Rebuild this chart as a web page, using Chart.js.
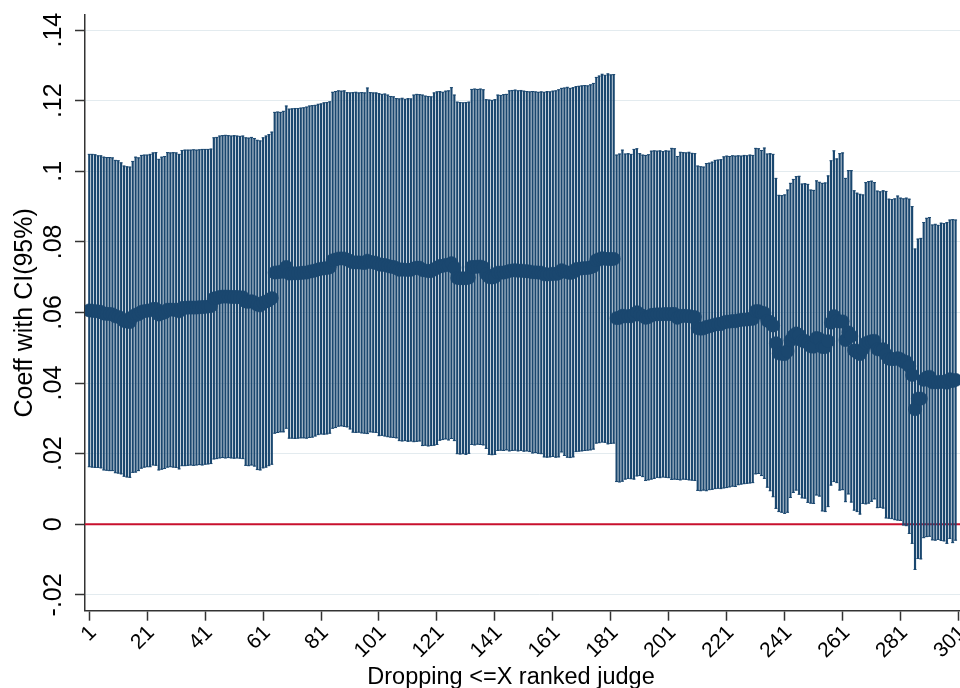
<!DOCTYPE html>
<html>
<head>
<meta charset="utf-8">
<script src="https://cdn.jsdelivr.net/npm/chart.js@4.4.1/dist/chart.umd.min.js"></script>
<style>
  html, body { margin: 0; padding: 0; overflow: hidden; background: #fff; }
</style>
</head>
<body>
<canvas id="myChart" width="1000" height="688"></canvas>
<script>
// upper bound of the 95% CI, one value per dropped rank (1..300)
var hi =
  [.1048,.1048,.1047,.1044,.1044,.1040,.1039,.1039,.1038,.1031,
   .1030,.1024,.1015,.1013,.1012,.1028,.1040,.1038,.1045,.1046,
   .1046,.1048,.1052,.1053,.1034,.1040,.1042,.1053,.1052,.1053,
   .1052,.1048,.1059,.1060,.1060,.1060,.1061,.1060,.1061,.1062,
   .1062,.1062,.1063,.1095,.1096,.1100,.1101,.1102,.1101,.1100,
   .1101,.1100,.1099,.1100,.1095,.1094,.1096,.1093,.1088,.1086,
   .1095,.1100,.1104,.1111,.1167,.1168,.1167,.1170,.1185,.1176,
   .1177,.1178,.1178,.1179,.1180,.1182,.1185,.1186,.1187,.1190,
   .1191,.1194,.1195,.1197,.1224,.1226,.1228,.1227,.1228,.1223,
   .1222,.1223,.1224,.1222,.1223,.1222,.1236,.1223,.1222,.1222,
   .1220,.1218,.1219,.1216,.1212,.1211,.1206,.1205,.1207,.1204,
   .1206,.1205,.1216,.1218,.1217,.1216,.1213,.1212,.1211,.1222,
   .1225,.1226,.1224,.1227,.1228,.1237,.1216,.1196,.1195,.1194,
   .1195,.1196,.1232,.1233,.1232,.1233,.1231,.1203,.1202,.1201,
   .1203,.1216,.1215,.1217,.1218,.1228,.1229,.1230,.1228,.1229,
   .1227,.1226,.1225,.1226,.1225,.1224,.1225,.1224,.1226,.1225,
   .1227,.1228,.1231,.1235,.1236,.1238,.1235,.1237,.1240,.1241,
   .1242,.1243,.1242,.1245,.1249,.1266,.1270,.1275,.1272,.1276,
   .1273,.1274,.1046,.1049,.1060,.1049,.1050,.1048,.1062,.1064,
   .1050,.1046,.1045,.1047,.1057,.1058,.1057,.1058,.1056,.1058,
   .1057,.1065,.1064,.1042,.1054,.1053,.1052,.1054,.1051,.1050,
   .1015,.1013,.1012,.1022,.1023,.1026,.1031,.1032,.1033,.1041,
   .1043,.1042,.1044,.1043,.1044,.1043,.1045,.1044,.1046,.1045,
   .1065,.1064,.1059,.1066,.1049,.1050,.1048,.0980,.0932,.0931,
   .0933,.0947,.0966,.0977,.0985,.0986,.0964,.0965,.0963,.0947,
   .0946,.0973,.0969,.0966,.0967,.0987,.1030,.1058,.1035,.1050,
   .1052,.0980,.1002,.1002,.0945,.0938,.0935,.0933,.0968,.0971,
   .0972,.0968,.0944,.0942,.0945,.0943,.0921,.0920,.0922,.0930,
   .0924,.0922,.0924,.0921,.0900,.0780,.0808,.0810,.0855,.0867,
   .0869,.0848,.0850,.0847,.0853,.0852,.0855,.0862,.0863,.0862];

// lower bound of the 95% CI
var lo =
  [.0163,.0162,.0161,.0161,.0160,.0154,.0153,.0152,.0152,.0146,
   .0145,.0143,.0136,.0134,.0133,.0147,.0148,.0152,.0159,.0162,
   .0163,.0163,.0168,.0167,.0154,.0156,.0158,.0162,.0163,.0162,
   .0161,.0157,.0166,.0166,.0167,.0168,.0167,.0168,.0169,.0168,
   .0170,.0171,.0172,.0185,.0186,.0188,.0189,.0188,.0189,.0188,
   .0187,.0188,.0187,.0186,.0167,.0166,.0168,.0165,.0155,.0154,
   .0160,.0162,.0166,.0170,.0258,.0260,.0262,.0262,.0272,.0244,
   .0244,.0243,.0244,.0245,.0245,.0244,.0246,.0247,.0250,.0254,
   .0256,.0255,.0256,.0258,.0272,.0274,.0278,.0279,.0277,.0276,
   .0270,.0261,.0260,.0261,.0259,.0258,.0257,.0262,.0261,.0260,
   .0251,.0252,.0250,.0248,.0247,.0246,.0245,.0237,.0236,.0237,
   .0235,.0236,.0234,.0235,.0236,.0223,.0224,.0222,.0223,.0224,
   .0226,.0238,.0240,.0242,.0239,.0243,.0237,.0200,.0199,.0200,
   .0198,.0201,.0226,.0225,.0227,.0226,.0225,.0215,.0198,.0197,
   .0198,.0209,.0210,.0209,.0211,.0208,.0209,.0210,.0208,.0209,
   .0207,.0208,.0206,.0202,.0203,.0201,.0200,.0191,.0190,.0191,
   .0192,.0190,.0191,.0205,.0195,.0190,.0189,.0191,.0206,.0207,
   .0208,.0209,.0210,.0211,.0213,.0230,.0231,.0233,.0232,.0228,
   .0229,.0230,.0121,.0120,.0122,.0128,.0130,.0129,.0128,.0137,
   .0138,.0135,.0124,.0126,.0128,.0130,.0133,.0132,.0134,.0133,
   .0132,.0127,.0128,.0127,.0126,.0128,.0127,.0126,.0125,.0124,
   .0096,.0095,.0097,.0095,.0098,.0099,.0101,.0102,.0101,.0103,
   .0104,.0106,.0108,.0107,.0112,.0114,.0115,.0116,.0117,.0118,
   .0143,.0144,.0138,.0130,.0105,.0095,.0078,.0045,.0036,.0034,
   .0031,.0034,.0076,.0090,.0097,.0085,.0075,.0074,.0062,.0060,
   .0059,.0083,.0080,.0038,.0036,.0050,.0111,.0121,.0118,.0097,
   .0098,.0064,.0086,.0063,.0040,.0036,.0029,.0059,.0058,.0060,
   .0065,.0072,.0047,.0048,.0046,.0018,.0017,.0016,.0013,.0012,
   .0011,-.0002,-.0004,-.0026,-.0054,-.0128,-.0097,-.0098,-.0038,-.0035,
   -.0034,-.0044,-.0045,-.0043,-.0046,-.0047,-.0054,-.0040,-.0052,-.0045];

// point estimate
var coef =
  [.0606,.0605,.0604,.0603,.0602,.0597,.0596,.0596,.0595,.0589,
   .0588,.0584,.0576,.0574,.0573,.0588,.0594,.0595,.0602,.0604,
   .0605,.0606,.0610,.0610,.0594,.0598,.0600,.0608,.0608,.0608,
   .0607,.0603,.0613,.0613,.0614,.0614,.0614,.0614,.0615,.0615,
   .0616,.0617,.0618,.0640,.0641,.0644,.0645,.0645,.0645,.0644,
   .0644,.0644,.0643,.0643,.0631,.0630,.0632,.0629,.0622,.0620,
   .0628,.0631,.0635,.0641,.0713,.0714,.0715,.0716,.0729,.0710,
   .0711,.0711,.0711,.0712,.0713,.0713,.0716,.0717,.0719,.0722,
   .0724,.0725,.0726,.0728,.0748,.0750,.0753,.0753,.0753,.0750,
   .0746,.0742,.0742,.0742,.0741,.0740,.0747,.0743,.0742,.0741,
   .0736,.0735,.0735,.0732,.0730,.0729,.0726,.0721,.0722,.0721,
   .0721,.0721,.0725,.0727,.0727,.0720,.0719,.0717,.0717,.0723,
   .0726,.0732,.0732,.0735,.0734,.0740,.0727,.0698,.0697,.0697,
   .0697,.0699,.0729,.0729,.0730,.0730,.0728,.0709,.0700,.0699,
   .0701,.0713,.0713,.0713,.0715,.0718,.0719,.0720,.0718,.0719,
   .0717,.0717,.0716,.0714,.0714,.0713,.0713,.0708,.0708,.0708,
   .0710,.0709,.0711,.0720,.0716,.0714,.0712,.0714,.0723,.0724,
   .0725,.0726,.0726,.0728,.0731,.0748,.0751,.0754,.0752,.0752,
   .0751,.0752,.0584,.0585,.0591,.0589,.0590,.0589,.0595,.0601,
   .0594,.0591,.0585,.0587,.0593,.0594,.0595,.0595,.0595,.0596,
   .0595,.0596,.0596,.0585,.0590,.0591,.0590,.0590,.0588,.0587,
   .0556,.0554,.0555,.0559,.0561,.0563,.0566,.0567,.0567,.0572,
   .0574,.0574,.0576,.0575,.0578,.0579,.0580,.0580,.0582,.0582,
   .0604,.0604,.0599,.0598,.0577,.0573,.0563,.0513,.0484,.0483,
   .0482,.0491,.0521,.0534,.0541,.0536,.0520,.0520,.0513,.0504,
   .0503,.0528,.0525,.0502,.0502,.0519,.0571,.0590,.0577,.0574,
   .0575,.0522,.0544,.0533,.0493,.0487,.0482,.0496,.0513,.0516,
   .0519,.0520,.0496,.0495,.0496,.0481,.0469,.0468,.0468,.0471,
   .0468,.0460,.0460,.0448,.0423,.0326,.0356,.0356,.0409,.0416,
   .0418,.0402,.0403,.0402,.0404,.0403,.0401,.0411,.0406,.0409];

var xTicks = [1, 21, 41, 61, 81, 101, 121, 141, 161, 181, 201, 221, 241, 261, 281, 301];
var yTicks = [-.02, 0, .02, .04, .06, .08, .1, .12, .14];
var yTickLabels = ['-.02', '0', '.02', '.04', '.06', '.08', '.1', '.12', '.14'];

var xTitle = 'Dropping <=X ranked judge';
var yTitle = 'Coeff with CI(95%)';

// rank dropped = position in the list
var ranks = coef.map(function (v, i) { return i + 1; });

var navy = '#1a476f';
var axisColor = '#333333';

Chart.defaults.font.family = '"Liberation Sans", Arial, Helvetica, sans-serif';
Chart.defaults.color = '#000';

var zeroLine = {
  id: 'zeroLine',
  beforeDatasetsDraw: function (chart) {
    var c = chart.ctx, a = chart.chartArea;
    var y = chart.scales.y.getPixelForValue(0);
    c.save();
    c.strokeStyle = '#c8102e';
    c.lineWidth = 2;
    c.beginPath();
    c.moveTo(a.left, y);
    c.lineTo(a.right, y);
    c.stroke();
    c.restore();
  }
};

// x title is centred on the visible picture, not on the (cropped) axis
var xTitlePlugin = {
  id: 'xTitlePlugin',
  afterDraw: function (chart) {
    var c = chart.ctx;
    c.save();
    c.font = '23.5px "Liberation Sans", Arial, sans-serif';
    c.fillStyle = '#000';
    c.textAlign = 'center';
    c.textBaseline = 'alphabetic';
    c.fillText(xTitle, chart.chartArea.left + 426, 684);
    c.restore();
  }
};

new Chart('myChart', {
  type: 'scatter',
  data: {
    datasets: [
      {
        type: 'scatter',
        data: ranks.map(function (r, i) { return {x: r, y: coef[i]}; }),
        pointRadius: 6.6,
        pointBackgroundColor: navy,
        pointBorderColor: navy,
        pointBorderWidth: 0.5,
        order: 0
      },
      {
        type: 'scatter',
        data: ranks.map(function (r, i) { return {x: r, y: hi[i]}; }),
        pointStyle: 'line',
        pointRadius: 1.5,
        pointBorderColor: navy,
        pointBorderWidth: 1,
        order: 1
      },
      {
        type: 'scatter',
        data: ranks.map(function (r, i) { return {x: r, y: lo[i]}; }),
        pointStyle: 'line',
        pointRadius: 1.5,
        pointBorderColor: navy,
        pointBorderWidth: 1,
        order: 1
      },
      {
        type: 'bar',
        data: ranks.map(function (r, i) { return {x: r, y: [lo[i], hi[i]]}; }),
        backgroundColor: navy,
        barThickness: 1.5,
        grouped: false,
        order: 2
      }
    ]
  },
  options: {
    responsive: false,
    animation: false,
    events: [],
    layout: {padding: {top: 15, right: 0, left: 0, bottom: 0}},
    plugins: {
      legend: {display: false},
      tooltip: {enabled: false}
    },
    scales: {
      x: {
        type: 'linear',
        min: -0.47,
        max: 312.88,
        offset: false,
        afterBuildTicks: function (s) {
          s.ticks = xTicks.map(function (v) { return {value: v}; });
        },
        afterFit: function (s) { s.height = 77.3; },
        ticks: {
          minRotation: 45,
          maxRotation: 45,
          autoSkip: false,
          font: {size: 21},
          padding: 0,
          labelOffset: 4,
          color: '#000'
        },
        grid: {
          drawOnChartArea: false,
          offset: false,
          tickLength: 10,
          tickColor: axisColor,
          tickWidth: 1.5
        },
        border: {color: axisColor, width: 1.5}
      },
      y: {
        type: 'linear',
        min: -0.02448,
        max: 0.14428,
        afterBuildTicks: function (s) {
          s.ticks = yTicks.map(function (v) { return {value: v}; });
        },
        afterFit: function (s) { s.width = 85; },
        ticks: {
          minRotation: 90,
          maxRotation: 90,
          crossAlign: 'center',
          autoSkip: false,
          font: {size: 25},
          padding: -1,
          color: '#000',
          callback: function (v, i) { return yTickLabels[i]; }
        },
        grid: {
          color: '#e3ebef',
          lineWidth: 1,
          tickLength: 10,
          tickColor: axisColor,
          tickWidth: 1.5
        },
        border: {color: axisColor, width: 1.5},
        title: {
          display: true,
          text: yTitle,
          font: {size: 25},
          color: '#000',
          padding: {top: 10, bottom: 0}
        }
      }
    }
  },
  plugins: [zeroLine, xTitlePlugin]
});
</script>
</body>
</html>
